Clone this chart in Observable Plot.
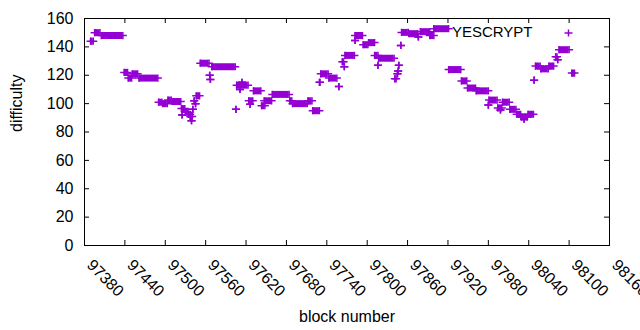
<!DOCTYPE html>
<html><head><meta charset="utf-8">
<script src="https://cdn.jsdelivr.net/npm/d3@7"></script>
<script src="https://cdn.jsdelivr.net/npm/@observablehq/plot@0.6"></script>
<style>body{margin:0;background:#fff}</style>
</head><body><div id="chart"></div>
<script>
// Runs of consecutive blocks with the same difficulty (first block, last block, difficulty)
const runStart = [97389,97395,97405,97439,97445,97451,97461,97490,97496,97504,97510,
  97525,97524,97530,97534,97537,97539,97541,97543,97545,97546,
  97552,97566,97567,97569,97605,97606,97611,97614,97624,97626,97631,97643,97647,97659,
  97685,97689,97712,97719,97729,97731,97743,97758,97763,97766,97767,97782,97782,97794,97802,
  97811,97816,97817,97841,97845,97846,97847,97850,97851,97862,97876,97879,97893,97899,
  97921,97940,97949,97962,97981,97980,97994,97998,98001,98012,98022,98029,98033,98039,
  98048,98050,98058,98070,98080,98083,98085,98104];
const runEnd = [97393,97403,97437,97444,97450,97459,97489,97495,97503,97509,97523,
  97525,97529,97534,97537,97540,97539,97541,97543,97545,97551,
  97565,97566,97567,97604,97605,97623,97611,97614,97630,97626,97642,97648,97658,97684,
  97688,97711,97718,97729,97730,97742,97755,97758,97765,97766,97781,97782,97793,97801,97811,
  97816,97816,97840,97843,97845,97846,97847,97850,97861,97875,97876,97893,97899,97921,
  97939,97948,97961,97980,97993,97980,98000,97998,98011,98021,98028,98038,98033,98047,
  98048,98057,98069,98077,98082,98083,98100,98108];
const runDifficulty = [144,150,148,122,118,121,118,101,100,102.5,101.5,
  92,96.5,94,92.5,91,88,96,102,100,105.5,
  128.5,120,117,126,96,113,110,115,102,99.5,109,98.5,102,106.5,
  102,100,102,95,115,121,118,112,129.5,126,134,144.5,148,141.5,143,
  134,127,132,117.5,121,123,127,141,150.2,149.3,147,150.7,148,152.8,
  124,116,111,109,102.5,99,97,95.5,101,96,92.5,90.5,89,92.5,
  116.5,126.5,124.5,126.5,133,131,138,121.5];

const xTickValues = [97380,97440,97500,97560,97620,97680,97740,97800,97860,97920,97980,98040,98100,98160];
const yTickValues = [0,20,40,60,80,100,120,140,160];
const seriesName = "YESCRYPT";
const xLabel = "block number";
const yLabel = "difficulty";

const runs = runStart.map((s, i) => ({start: s, end: runEnd[i], difficulty: runDifficulty[i]}));
const color = "#9400d3";
const W = 640, H = 330, ML = 84, MR = 31, MT = 18, MB = 85;
const fw = W - ML - MR, fh = H - MT - MB;
const cross = {
  draw(ctx, size) {
    const r = Math.sqrt(size / Math.PI);
    ctx.moveTo(-r, 0); ctx.lineTo(r, 0);
    ctx.moveTo(0, -r * 0.9); ctx.lineTo(0, r * 0.9);
  }
};
const dotStyle = {symbol: cross, r: 4, fill: "none", stroke: color, strokeWidth: 1.5};

const chart = Plot.plot({
  width: W, height: H,
  marginLeft: ML, marginRight: MR, marginTop: MT, marginBottom: MB,
  style: {fontFamily: "'Liberation Sans', Arial, sans-serif", fontSize: "16px", background: "#fff", color: "#000"},
  x: {domain: [97380, 98160], axis: null},
  y: {domain: [0, 160], axis: null},
  marks: [
    Plot.ruleY(runs, {x1: "start", x2: "end", y: "difficulty", stroke: color, strokeWidth: 7}),
    Plot.dot(runs, {x: "start", y: "difficulty", ...dotStyle}),
    Plot.dot(runs, {x: "end", y: "difficulty", ...dotStyle}),
    Plot.frame({stroke: "#000", strokeWidth: 1}),
    Plot.tickX(xTickValues, {x: d => d, insetTop: fh - 5, stroke: "#000"}),
    Plot.tickX(xTickValues, {x: d => d, insetBottom: fh - 5, stroke: "#000"}),
    Plot.tickY(yTickValues, {y: d => d, insetRight: fw - 5, stroke: "#000"}),
    Plot.tickY(yTickValues, {y: d => d, insetLeft: fw - 5, stroke: "#000"}),
    Plot.text(xTickValues, {x: d => d, text: d => String(d), frameAnchor: "bottom", dx: 5, dy: 17, rotate: 45, textAnchor: "start", lineAnchor: "middle", fill: "#000"}),
    Plot.text(yTickValues, {y: d => d, text: d => String(d), frameAnchor: "left", dx: -11, textAnchor: "end", lineAnchor: "middle", fill: "#000"}),
    Plot.text([xLabel], {text: d => d, frameAnchor: "bottom", dy: 71, lineAnchor: "middle", fill: "#000"}),
    Plot.text([yLabel], {text: d => d, frameAnchor: "left", dx: -68, rotate: -90, lineAnchor: "middle", fill: "#000"}),
    Plot.text([seriesName], {text: d => d, frameAnchor: "top-right", dx: -77, dy: 14, textAnchor: "end", lineAnchor: "middle", fontSize: 15, fill: "#000"}),
    Plot.dot([seriesName], {frameAnchor: "top-right", dx: -41, dy: 14.5, ...dotStyle})
  ]
});
document.getElementById("chart").append(chart);
</script>
</body></html>
